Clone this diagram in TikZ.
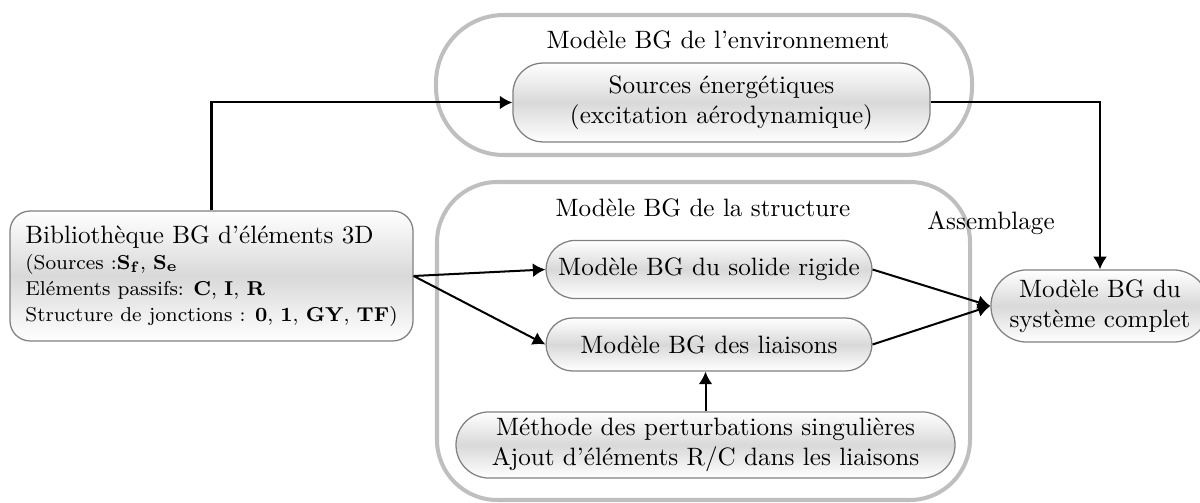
\documentclass[tikz,border=0pt]{standalone}
\usetikzlibrary{arrows.meta,shapes.misc}
\tikzset{
  box/.style={draw=gray, line width=0.5pt, top color=white, bottom color=white,
    middle color=gray!30, align=center, inner sep=0pt},
  pill/.style={box, rounded rectangle},
  group/.style={draw=gray!50, line width=1.6pt},
  arr/.style={-{Latex[length=5pt,width=5.5pt]}, line width=0.8pt}
}
\begin{document}
\begin{tikzpicture}[x=0.398pt, y=-0.398pt]
  \useasboundingbox (0,0) rectangle (1200,503);

  % Groups
  \draw[group, rounded corners=27pt] (436,15) rectangle (972,155);
  \draw[group, rounded corners=24pt] (437,182) rectangle (970,500);
  \node (envt) at (718,40) {Modèle BG de l’environnement};
  \node (strt) at (703,208) {Modèle BG de la structure};
  \node (asm) at (991,223) {Assemblage};

  % Blocks
  \node[box, rounded corners=8pt, minimum width=160.4pt, minimum height=51.7pt,
        align=left, font=\footnotesize] (lib) at (211.5,276)
    {{\normalsize Bibliothèque BG d’éléments 3D}\\[0.8pt]
     (Sources :$\mathbf{S_f}$, $\mathbf{S_e}$\\[0.8pt]
     Eléments passifs: \textbf{C}, \textbf{I}, \textbf{R}\\[0.8pt]
     Structure de jonctions : \textbf{0}, \textbf{1}, \textbf{GY}, \textbf{TF})};
  \node[box, rounded corners=12pt, minimum width=166pt, minimum height=31.4pt]
    (src) at (721.5,102.5) {Sources énergétiques\\(excitation aérodynamique)};
  \node[pill, minimum width=129.7pt, minimum height=23.1pt] (solid) at (709,269.5)
    {Modèle BG du solide rigide};
  \node[pill, minimum width=129.7pt, minimum height=21.1pt] (liai) at (709,344.5)
    {Modèle BG des liaisons};
  \node[pill, minimum width=198.6pt, minimum height=26.3pt] (meth) at (705.5,445)
    {Méthode des perturbations singulières\\Ajout d’éléments R/C dans les liaisons};
  \node[pill, minimum width=86.8pt, minimum height=28.7pt] (cplt) at (1100,306)
    {Modèle BG du\\système complet};

  % Connections
  \draw[arr] (lib.north) |- (src.west);
  \draw[arr] (src.east) -| (cplt.north);
  \foreach \n in {solid, liai}
    \draw[arr] (lib.east) -- (\n.west);
  \foreach \n in {solid, liai}
    \draw[arr] (\n.east) -- (cplt.west);
  \draw[arr] (meth.north) -- (meth.north |- liai.south);
\end{tikzpicture}
\end{document}
